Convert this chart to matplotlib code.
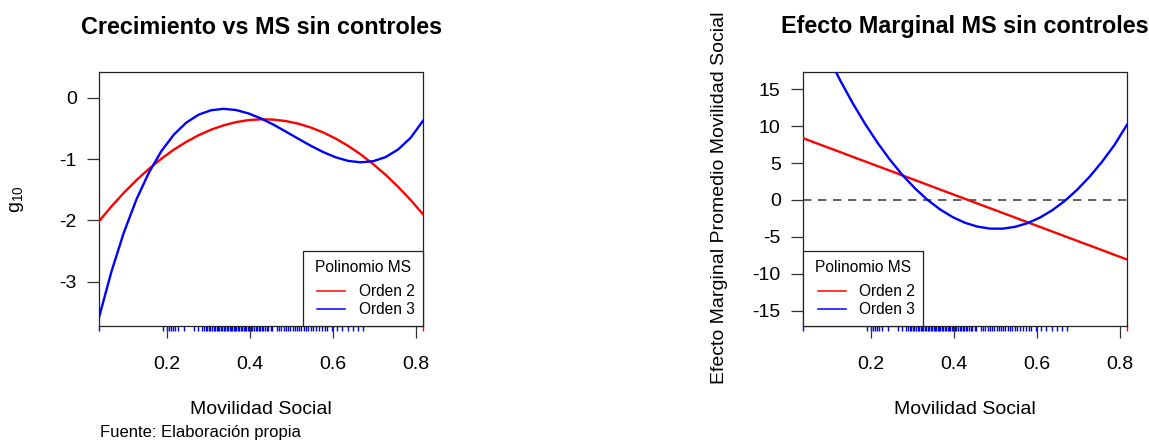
import matplotlib
matplotlib.use("Agg")
import matplotlib.pyplot as plt
from matplotlib.lines import Line2D
from matplotlib.legend_handler import HandlerLine2D
import matplotlib.transforms as mtransforms

plt.rcParams['font.family'] = ['Liberation Sans', 'DejaVu Sans']
plt.rcParams['axes.unicode_minus'] = False
plt.rcParams['mathtext.fontset'] = 'custom'
plt.rcParams['mathtext.rm'] = 'Liberation Sans'
plt.rcParams['mathtext.it'] = 'Liberation Sans:italic'

# Movilidad social (eje x de ambas curvas)
ms = [0.037, 0.067, 0.097, 0.127, 0.157, 0.187, 0.217, 0.247, 0.277,
      0.307, 0.337, 0.367, 0.397, 0.427, 0.457, 0.487, 0.517, 0.547,
      0.577, 0.607, 0.637, 0.667, 0.697, 0.727, 0.757, 0.787, 0.817]

# Crecimiento ajustado (g10)
g_orden2 = [-2.013, -1.771, -1.548, -1.344, -1.160, -0.994, -0.847, -0.719,
            -0.610, -0.520, -0.449, -0.397, -0.364, -0.351, -0.356, -0.380,
            -0.423, -0.485, -0.566, -0.666, -0.785, -0.923, -1.080, -1.256,
            -1.451, -1.665, -1.898]
g_orden3 = [-3.581, -2.832, -2.193, -1.659, -1.221, -0.871, -0.602, -0.406,
            -0.275, -0.203, -0.180, -0.200, -0.255, -0.337, -0.438, -0.552,
            -0.669, -0.783, -0.886, -0.971, -1.029, -1.052, -1.034, -0.967,
            -0.843, -0.654, -0.375]

# Efecto marginal de la movilidad social
em_orden2 = [8.38, 7.74, 7.11, 6.48, 5.84, 5.21, 4.58, 3.95, 3.31, 2.68,
             2.05, 1.41, 0.78, 0.15, -0.49, -1.12, -1.75, -2.38, -3.02,
             -3.65, -4.28, -4.92, -5.55, -6.18, -6.81, -7.45, -8.08]
em_orden3 = [26.93, 23.09, 19.50, 16.17, 13.09, 10.27, 7.71, 5.40, 3.34,
             1.54, 0.00, -1.29, -2.32, -3.10, -3.62, -3.89, -3.90, -3.66,
             -3.16, -2.41, -1.40, -0.14, 1.38, 3.15, 5.18, 7.47, 10.20]

# Observaciones de movilidad social (rug)
rug_ms = [0.037,
          0.192, 0.200, 0.206, 0.210, 0.215, 0.220, 0.228, 0.242,
          0.266, 0.276, 0.286, 0.290, 0.294, 0.298, 0.302, 0.305, 0.309,
          0.313, 0.316, 0.320, 0.324, 0.327, 0.331, 0.334, 0.338, 0.341,
          0.345, 0.348, 0.352, 0.355, 0.358, 0.362, 0.365, 0.368, 0.372,
          0.375, 0.378, 0.382, 0.385, 0.389, 0.392, 0.396, 0.399, 0.403,
          0.406, 0.410, 0.414, 0.418, 0.421, 0.425, 0.429, 0.433, 0.437,
          0.441, 0.445, 0.450, 0.454,
          0.466, 0.471, 0.476, 0.482, 0.487, 0.492, 0.497, 0.503, 0.508,
          0.513, 0.519, 0.524, 0.530, 0.536, 0.541, 0.547, 0.553, 0.560,
          0.567, 0.574, 0.580, 0.587,
          0.597, 0.609, 0.621, 0.637, 0.649, 0.661, 0.673]
rug_extremo = [0.817]

x_ticks = [0.2, 0.4, 0.6, 0.8]
g_ticks = [0, -1, -2, -3]
em_ticks = [15, 10, 5, 0, -5, -10, -15]

BASE = 14
W, H = 1149, 441
fig = plt.figure(figsize=(W / 100, H / 100), dpi=100)


def px_box(x0, y0, x1, y1):
    return [x0 / W, 1 - y1 / H, (x1 - x0) / W, (y1 - y0) / H]


def style_axes(ax, yticks, ylim):
    ax.set_xlim(ms[0], ms[-1])
    ax.set_ylim(*ylim)
    ax.set_xticks(x_ticks)
    ax.set_xticklabels([f"{t:.1f}" for t in x_ticks])
    ax.set_yticks(yticks)
    ax.set_yticklabels([str(t) for t in yticks])
    ax.tick_params(direction='out', length=8.6, width=0.9, color='#333333',
                   labelsize=BASE, pad=7.5)
    ax.tick_params(axis='x', pad=13)
    for s in ax.spines.values():
        s.set_color('#222222')
        s.set_linewidth(0.9)
    trans = mtransforms.blended_transform_factory(ax.transData, ax.transAxes)
    ax.vlines(rug_ms, -0.02, 0.0, colors='#0000ff', lw=1.0,
              transform=trans, clip_on=False, zorder=1)
    ax.vlines(rug_extremo, -0.02, 0.0, colors='#ff0000', lw=1.0,
              transform=trans, clip_on=False, zorder=1)


def add_legend(ax, loc):
    handles = [Line2D([], [], color='#ff0000', lw=1.1),
               Line2D([], [], color='#0000ff', lw=1.1)]
    leg = ax.legend(handles, ['Orden 2', 'Orden 3'], title='Polinomio MS',
                    loc=loc, borderaxespad=0, fancybox=False,
                    edgecolor='#222222', framealpha=1,
                    fontsize=BASE * 0.8, title_fontsize=BASE * 0.8,
                    handlelength=2.2, handletextpad=0.85,
                    borderpad=0.55, labelspacing=0.22,
                    handler_map={Line2D: HandlerLine2D(xpad=0.4)})
    leg._legend_box.sep = 6.5
    leg.get_frame().set_linewidth(0.9)
    leg.set_zorder(5)


# Panel izquierdo: crecimiento
ax1 = fig.add_axes(px_box(99, 72, 423, 326))
ax1.plot(ms, g_orden2, color='#ff0000', lw=1.7, zorder=3)
ax1.plot(ms, g_orden3, color='#0000ff', lw=1.7, zorder=3)
style_axes(ax1, g_ticks, (-3.72, 0.42))
add_legend(ax1, 'lower right')

# Panel derecho: efecto marginal
ax2 = fig.add_axes(px_box(803, 72, 1127, 326))
ax2.axhline(0, color='#444444', lw=1.2, ls=(0, (5, 4)), zorder=2)
ax2.plot(ms, em_orden2, color='#ff0000', lw=1.7, zorder=3)
ax2.plot(ms, em_orden3, color='#0000ff', lw=1.7, zorder=3)
style_axes(ax2, em_ticks, (-17.1, 17.35))
add_legend(ax2, 'lower left')

# Títulos y etiquetas
fig.text(262 / W, 1 - 27 / H, 'Crecimiento vs MS sin controles',
         ha='center', va='center', fontsize=BASE * 1.2, fontweight='bold')
fig.text(965 / W, 1 - 27 / H, 'Efecto Marginal MS sin controles',
         ha='center', va='center', fontsize=BASE * 1.2, fontweight='bold')
fig.text(261 / W, 1 - 409 / H, 'Movilidad Social', ha='center', va='center',
         fontsize=BASE)
fig.text(965 / W, 1 - 409 / H, 'Movilidad Social', ha='center', va='center',
         fontsize=BASE)
fig.text(100 / W, 1 - 432 / H, 'Fuente: Elaboración propia', ha='left',
         va='center', fontsize=12)
fig.text(17 / W, 1 - 199 / H, r'$\mathrm{g}_{10}$', ha='center', va='center',
         rotation=90, fontsize=BASE)
fig.text(720 / W, 1 - 198 / H, 'Efecto Marginal Promedio Movilidad Social',
         ha='center', va='center', rotation=90, fontsize=BASE)

fig.savefig('out.png', dpi=100)
